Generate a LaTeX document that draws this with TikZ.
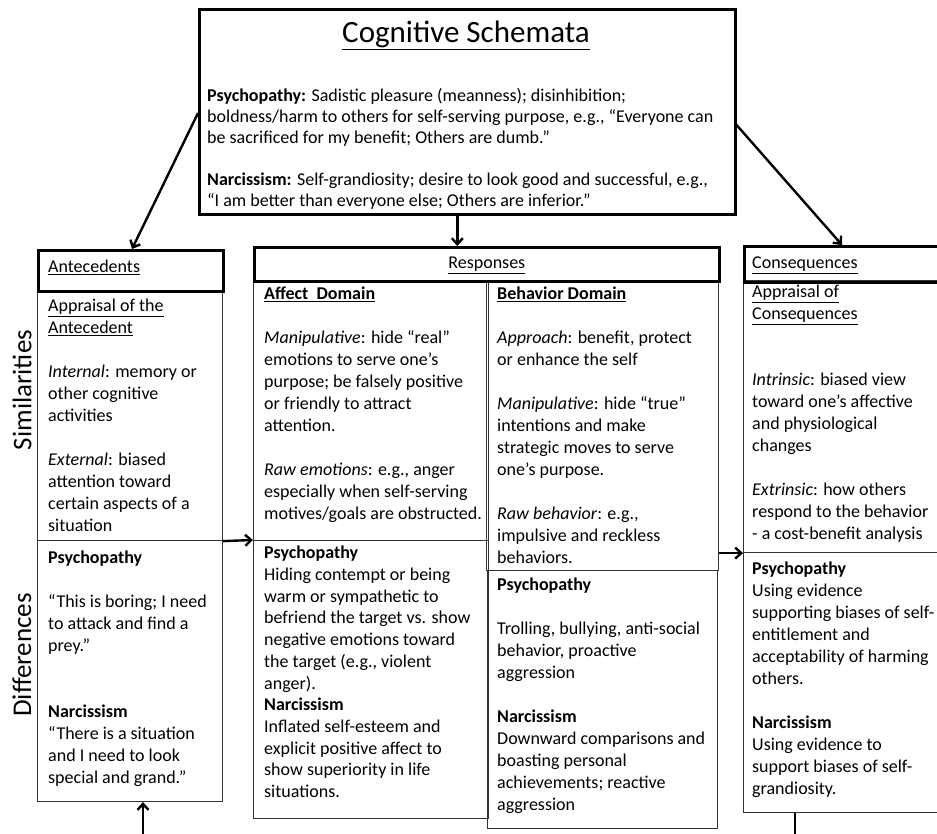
\documentclass[tikz,border=0pt]{standalone}
\usepackage{fontspec}
\setmainfont{Carlito}
\usetikzlibrary{arrows.meta, positioning}

\begin{document}
\begin{tikzpicture}[x=1pt, y=1pt,
  hdr/.style={draw, line width=2.6pt, anchor=north west, inner sep=0pt},
  cell/.style={draw=black!80, line width=1.1pt, anchor=north west, inner sep=0pt},
  txt/.style={anchor=north west, align=left, inner sep=0pt, font=\fontsize{18}{22}\selectfont},
  side/.style={rotate=90, font=\fontsize{27}{29}\selectfont},
  arr/.style={line width=2.4pt, -{Straight Barb[length=6pt, width=11pt]}}]
\path[use as bounding box, clip] (0,0) rectangle (937,-834);

% schemata box on top
\node[hdr, minimum width=536, minimum height=205] (schema) at (198,-8) {};
\node[font=\fontsize{31}{33}\selectfont] (title) at (466,-35) {\underline{Cognitive Schemata}};
\node[txt, font=\fontsize{18}{21}\selectfont] (schematxt) at (207,-88)
  {\textbf{Psychopathy:} Sadistic pleasure (meanness); disinhibition;\\
   boldness/harm to others for self-serving purpose, e.g., “Everyone can\\
   be sacrificed for my benefit; Others are dumb.”\\[21pt]
   \textbf{Narcissism:} Self-grandiosity; desire to look good and successful, e.g.,\\
   “I am better than everyone else; Others are inferior.”};

% antecedents
\node[cell, minimum width=185, minimum height=250] (antsim) at (37,-290) {};
\node[cell, minimum width=185, minimum height=261] (antdif) at (37,-540) {};
\node[hdr, minimum width=185, minimum height=41] (anthd) at (37,-249) {};
\node[txt] (antttl) at (48,-260) {\underline{Antecedents}};
\node[txt] (antsimtxt) at (48,-299)
  {\underline{Appraisal of the}\\ \underline{Antecedent}\\[22pt]
   \textit{Internal}: memory or\\ other cognitive\\ activities\\[22pt]
   \textit{External}: biased\\ attention toward\\ certain aspects of a\\ situation};
\node[txt] (antdiftxt) at (48,-551)
  {\textbf{Psychopathy}\\[22pt]
   “This is boring; I need\\ to attack and find a\\ prey.”\\[44pt]
   \textbf{Narcissism}\\ “There is a situation\\ and I need to look\\ special and grand.”};
\node[side] (simlbl) at (22,-390) {Similarities};
\node[side] (diflbl) at (22,-655) {Differences};

% responses
\node[cell, minimum width=235, minimum height=260] (affup) at (253,-280) {};
\node[cell, minimum width=235, minimum height=278] (afflo) at (253,-540) {};
\node[cell, minimum width=232, minimum height=290] (behup) at (486,-280) {};
\node[cell, minimum width=230, minimum height=258] (behlo) at (487,-570) {};
\node[hdr, minimum width=465, minimum height=34] (resphd) at (253,-246) {};
\node[txt, anchor=north] (respttl) at (resphd.center |- 0,-257) {\underline{Responses}};
\node[txt] (affuptxt) at (264,-287)
  {\textbf{\underline{Affect\ \ Domain}}\\[22pt]
   \textit{Manipulative}: hide “real”\\ emotions to serve one’s\\ purpose; be falsely positive\\
   or friendly to attract\\ attention.\\[22pt]
   \textit{Raw emotions}: e.g., anger\\ especially when self-serving\\ motives/goals are obstructed.};
\node[txt, font=\fontsize{18}{21.7}\selectfont] (afflotxt) at (264,-546)
  {\textbf{Psychopathy}\\ Hiding contempt or being\\ warm or sympathetic to\\
   befriend the target vs. show\\ negative emotions toward\\ the target (e.g., violent\\ anger).\\
   \textbf{Narcissism}\\ Inflated self-esteem and\\ explicit positive affect to\\
   show superiority in life\\ situations.};
\node[txt] (behuptxt) at (497,-287)
  {\textbf{\underline{Behavior Domain}}\\[22pt]
   \textit{Approach}: benefit, protect\\ or enhance the self\\[22pt]
   \textit{Manipulative}: hide “true”\\ intentions and make\\ strategic moves to serve\\ one's purpose.\\[22pt]
   \textit{Raw behavior}: e.g.,\\ impulsive and reckless\\ behaviors.};
\node[txt] (behlotxt) at (497,-578)
  {\textbf{Psychopathy}\\[22pt]
   Trolling, bullying, anti-social\\ behavior, proactive\\ aggression\\[22pt]
   \textbf{Narcissism}\\ Downward comparisons and\\ boasting personal\\ achievements; reactive\\ aggression};

% consequences
\node[cell, minimum width=220, minimum height=272] (consup) at (743,-280) {};
\node[cell, minimum width=220, minimum height=260] (conslo) at (743,-552) {};
\node[hdr, minimum width=220, minimum height=36] (conshd) at (743,-245) {};
\node[txt] (consttl) at (752,-257) {\underline{Consequences}};
\node[txt] (consuptxt) at (752,-285)
  {\underline{Appraisal of}\\ \underline{Consequences}\\[44pt]
   \textit{Intrinsic}: biased view\\ toward one's affective\\ and physiological\\ changes\\[22pt]
   \textit{Extrinsic}: how others\\ respond to the behavior\\ - a cost-benefit analysis};
\node[txt] (conslotxt) at (752,-562)
  {\textbf{Psychopathy}\\ Using evidence\\ supporting biases of self-\\ entitlement and\\
   acceptability of harming\\ others.\\[22pt]
   \textbf{Narcissism}\\ Using evidence to\\ support biases of self-\\ grandiosity.};

% connectors
\draw[arr] ([yshift=-105]schema.north west) -- ([xshift=95]anthd.north west);
\draw[arr] ([xshift=-10]schema.south) -- ([xshift=-10]schema.south |- resphd.north);
\draw[arr] ([yshift=-117]schema.north east) -- ([xshift=99]conshd.north west);
\draw[arr] (antsim.south east) -- (afflo.north west);
\draw[arr] (behup.east |- consup.south west) -- (consup.south west);
\draw[arr] ([xshift=52]conslo.south west) -- ++(0,-23) -| ([xshift=106]antdif.south west);
\end{tikzpicture}
\end{document}
